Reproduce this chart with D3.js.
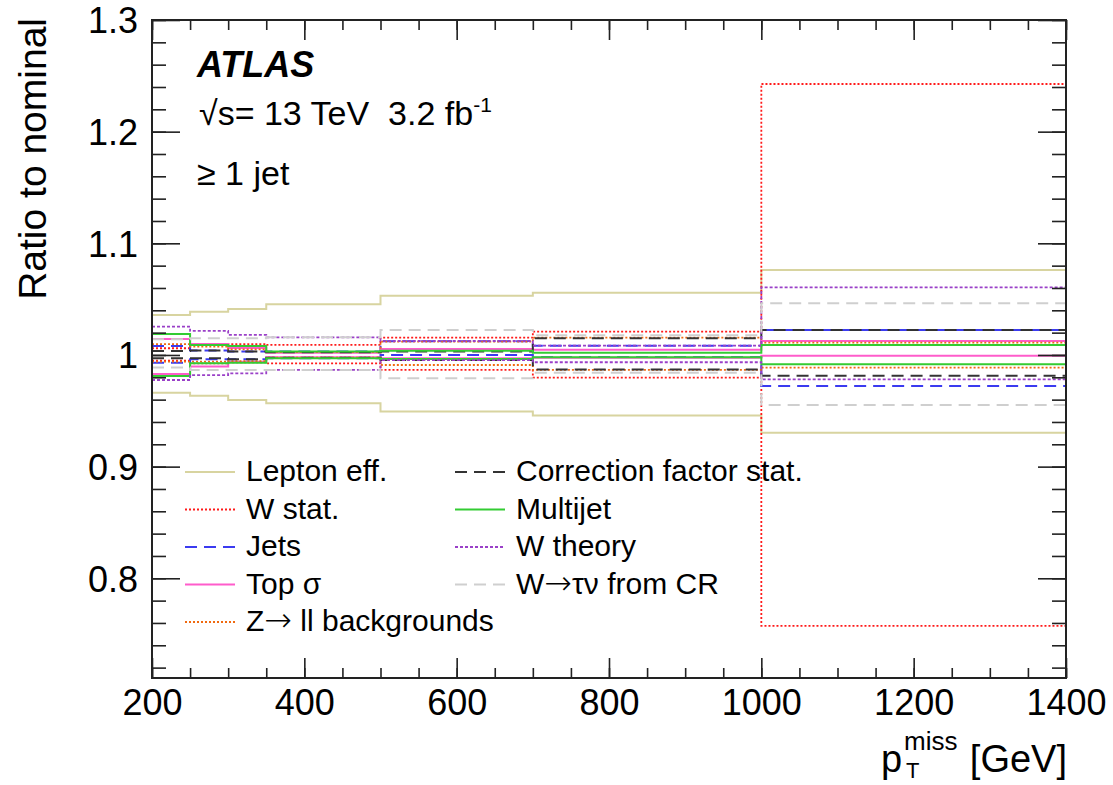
<!DOCTYPE html>
<html>
<head>
<meta charset="utf-8">
<script src="https://cdn.jsdelivr.net/npm/d3@7"></script>
<style>
  html, body { margin: 0; padding: 0; background: #fff; }
  svg { display: block; font-family: "Liberation Sans", Arial, Helvetica, sans-serif; }
  svg text { white-space: pre; }
  .arrow { font-family: "DejaVu Sans", sans-serif; }
</style>
</head>
<body>
<svg id="chart" width="1113" height="785"></svg>
<script>
// Bin edges of the missing-pT histogram [GeV]
const binEdges = [200, 250, 300, 350, 500, 700, 1000, 1400];

// Axis ticks
const xTicks = [200, 400, 600, 800, 1000, 1200, 1400];
const xTickLabels = ["200", "400", "600", "800", "1000", "1200", "1400"];
const yTicks = [0.8, 0.9, 1.0, 1.1, 1.2, 1.3];
const yTickLabels = ["0.8", "0.9", "1", "1.1", "1.2", "1.3"];

// Systematic variations: ratio to nominal per bin (up / down)
const leptonUp     = [1.0358, 1.0388, 1.0412, 1.0454, 1.0531, 1.0558, 1.0761];
const leptonDown   = [0.9662, 0.9635, 0.9597, 0.9568, 0.9493, 0.9457, 0.9304];
const wStatUp      = [1.0060, 1.0100, 1.0098, 1.0090, 1.0155, 1.0209, 1.2427];
const wStatDown    = [0.9949, 0.9925, 0.9935, 0.9925, 0.9866, 0.9797, 0.7573];
const jetsUp       = [1.0080, 1.0040, 1.0030, 1.0030, 1.0122, 1.0083, 1.0224];
const jetsDown     = [0.9931, 0.9962, 0.9961, 0.9970, 1.0000, 0.9982, 0.9723];
const topUp        = [1.0143, 1.0098, 1.0063, 1.0020, 1.0054, 1.0046, 1.0125];
const topDown      = [0.9830, 0.9896, 0.9940, 0.9980, 0.9970, 0.9975, 0.9994];
const zllUp        = [1.0098, 1.0074, 1.0050, 1.0025, 1.0120, 1.0155, 1.0110];
const zllDown      = [0.9940, 0.9940, 0.9945, 0.9975, 0.9910, 0.9866, 0.9887];
const corrUp       = [1.0035, 1.0040, 1.0030, 1.0025, 1.0030, 1.0150, 1.0224];
const corrDown     = [0.9970, 0.9970, 0.9961, 0.9975, 0.9955, 0.9870, 0.9815];
const multijetUp   = [1.0188, 1.0090, 1.0080, 1.0030, 1.0037, 1.0020, 1.0090];
const multijetDown = [0.9812, 0.9925, 0.9931, 0.9970, 0.9965, 0.9980, 0.9917];
const wTheoryUp    = [1.0253, 1.0215, 1.0180, 1.0158, 1.0125, 1.0083, 1.0606];
const wTheoryDown  = [0.9776, 0.9820, 0.9836, 0.9866, 0.9955, 0.9935, 0.9782];
const tauUp        = [1.0140, 1.0150, 1.0150, 1.0158, 1.0224, 1.0176, 1.0463];
const tauDown      = [0.9887, 0.9866, 0.9866, 0.9866, 0.9791, 0.9840, 0.9552];

// Legend names
const systNames = ["Lepton eff.", "W stat.", "Jets", "Top σ", "Z→ ll backgrounds",
                   "Correction factor stat.", "Multijet", "W theory", "W→τν from CR"];

const systValues = [
  [leptonUp, leptonDown], [wStatUp, wStatDown], [jetsUp, jetsDown], [topUp, topDown],
  [zllUp, zllDown], [corrUp, corrDown], [multijetUp, multijetDown],
  [wTheoryUp, wTheoryDown], [tauUp, tauDown]
];

// Line styles per systematic
const styles = {
  "Lepton eff.":             { color: "#d8d4a0", dash: null,    width: 2 },
  "W stat.":                 { color: "#ff1a1a", dash: "2,2",   width: 1.8 },
  "Jets":                    { color: "#3b3bf0", dash: "12,7",  width: 2 },
  "Top σ":                   { color: "#ff5ccb", dash: null,    width: 2 },
  "Z→ ll backgrounds":       { color: "#f06a10", dash: "2,2",   width: 1.8 },
  "Correction factor stat.": { color: "#333333", dash: "12,7",  width: 2 },
  "Multijet":                { color: "#33cc33", dash: null,    width: 2 },
  "W theory":                { color: "#9a40c8", dash: "3,2",   width: 1.8 },
  "W→τν from CR":            { color: "#cfcfcf", dash: "12,7",  width: 2 }
};

const svg = d3.select("#chart");
const plotLeft = 152, plotRight = 1066, plotTop = 20, plotBottom = 678;

const x = d3.scaleLinear().domain([200, 1400]).range([plotLeft, plotRight]);
const y = d3.scaleLinear().domain([0.7107, 1.3]).range([plotBottom, plotTop]);

// Clip region for the histogram lines
svg.append("defs").append("clipPath").attr("id", "plotClip")
  .append("rect").attr("x", plotLeft).attr("y", plotTop)
  .attr("width", plotRight - plotLeft).attr("height", plotBottom - plotTop);

// Step-histogram outline: each bin content held until the next edge
const stepLine = d3.line()
  .x(d => x(d[0]))
  .y(d => y(d[1]))
  .curve(d3.curveStepAfter);

function histPoints(vals) {
  const pts = vals.map((v, i) => [binEdges[i], v]);
  pts.push([binEdges[binEdges.length - 1], vals[vals.length - 1]]);
  return pts;
}

const gLines = svg.append("g").attr("clip-path", "url(#plotClip)");
systNames.forEach((name, i) => {
  const st = styles[name];
  systValues[i].forEach(vals => {
    gLines.append("path")
      .attr("d", stepLine(histPoints(vals)))
      .attr("fill", "none")
      .attr("stroke", st.color)
      .attr("stroke-width", st.width)
      .attr("stroke-dasharray", st.dash);
  });
});

// Axes with ticks on all four sides
const axisColor = "#222";
const xMinor = d3.range(200, 1401, 50);
const yMinor = d3.range(0, 30).map(i => +(0.72 + 0.02 * i).toFixed(2)).filter(v => v <= 1.3);

function styleAxis(g) {
  g.select(".domain").remove();
  g.selectAll("line").attr("stroke", axisColor).attr("stroke-width", 1.6);
}

svg.append("g").attr("transform", `translate(0,${plotBottom})`)
  .call(d3.axisBottom(x).tickValues(xMinor).tickSize(-10).tickFormat(""))
  .call(styleAxis);
svg.append("g").attr("transform", `translate(0,${plotBottom})`)
  .call(d3.axisBottom(x).tickValues(xTicks).tickSize(-20).tickPadding(0)
        .tickFormat((d, i) => xTickLabels[i]))
  .call(styleAxis)
  .call(g => g.selectAll("text").attr("y", 37).attr("dy", null)
      .attr("font-size", 36).attr("fill", "#000")
      .attr("font-family", "'Liberation Sans', Arial, sans-serif"));
svg.append("g").attr("transform", `translate(0,${plotTop})`)
  .call(d3.axisTop(x).tickValues(xMinor).tickSize(-10).tickFormat(""))
  .call(styleAxis);
svg.append("g").attr("transform", `translate(0,${plotTop})`)
  .call(d3.axisTop(x).tickValues(xTicks).tickSize(-20).tickFormat(""))
  .call(styleAxis);

svg.append("g").attr("transform", `translate(${plotLeft},0)`)
  .call(d3.axisLeft(y).tickValues(yMinor).tickSize(-14).tickFormat(""))
  .call(styleAxis);
svg.append("g").attr("transform", `translate(${plotLeft},0)`)
  .call(d3.axisLeft(y).tickValues(yTicks).tickSize(-28).tickPadding(14)
        .tickFormat((d, i) => yTickLabels[i]))
  .call(styleAxis)
  .call(g => g.selectAll("text").attr("x", -14).attr("dy", "0.36em")
      .attr("font-size", 36).attr("fill", "#000")
      .attr("font-family", "'Liberation Sans', Arial, sans-serif"));
svg.append("g").attr("transform", `translate(${plotRight},0)`)
  .call(d3.axisRight(y).tickValues(yMinor).tickSize(-14).tickFormat(""))
  .call(styleAxis);
svg.append("g").attr("transform", `translate(${plotRight},0)`)
  .call(d3.axisRight(y).tickValues(yTicks).tickSize(-28).tickFormat(""))
  .call(styleAxis);

// Frame
svg.append("rect")
  .attr("x", plotLeft).attr("y", plotTop)
  .attr("width", plotRight - plotLeft).attr("height", plotBottom - plotTop)
  .attr("fill", "none").attr("stroke", axisColor).attr("stroke-width", 2);

// Axis titles
svg.append("text")
  .attr("transform", "translate(46,18) rotate(-90)")
  .attr("text-anchor", "end")
  .attr("font-size", 39)
  .text("Ratio to nominal");

svg.append("text").attr("x", 881).attr("y", 772).attr("font-size", 38).text("p");
svg.append("text").attr("x", 904).attr("y", 750).attr("font-size", 26).text("miss");
svg.append("text").attr("x", 906).attr("y", 778).attr("font-size", 22).text("T");
svg.append("text").attr("x", 1067).attr("y", 772).attr("text-anchor", "end")
  .attr("font-size", 38).text("[GeV]");

// Experiment labels
svg.append("text").attr("x", 197).attr("y", 77)
  .attr("font-size", 36).attr("font-weight", "bold").attr("font-style", "italic")
  .text("ATLAS");
const lumi = svg.append("text").attr("x", 199).attr("y", 125).attr("font-size", 34);
lumi.append("tspan").text("√s= 13 TeV  3.2 fb");
lumi.append("tspan").attr("dy", -13).attr("font-size", 21).text("-1");
svg.append("text").attr("x", 197).attr("y", 185).attr("font-size", 34)
  .text("≥ 1 jet");

// Legend: two columns; arrows set in a font with a full-width arrow glyph
const legendRows = 5, rowStep = 37.5, rowY0 = 472;
systNames.forEach((name, i) => {
  const col = i < legendRows ? 0 : 1;
  const row = col === 0 ? i : i - legendRows;
  const lx = col === 0 ? 185 : 455;
  const ly = rowY0 + row * rowStep;
  const st = styles[name];
  svg.append("line")
    .attr("x1", lx).attr("x2", lx + 50).attr("y1", ly).attr("y2", ly)
    .attr("stroke", st.color).attr("stroke-width", st.width)
    .attr("stroke-dasharray", st.dash);
  const t = svg.append("text")
    .attr("x", lx + 61).attr("y", ly + 9)
    .attr("font-size", 30);
  name.split(/(→)/).forEach(part => {
    if (!part) return;
    const ts = t.append("tspan").text(part);
    if (part === "→") ts.attr("class", "arrow").attr("font-size", 33).attr("font-weight", 200);
  });
});
</script>
</body>
</html>
